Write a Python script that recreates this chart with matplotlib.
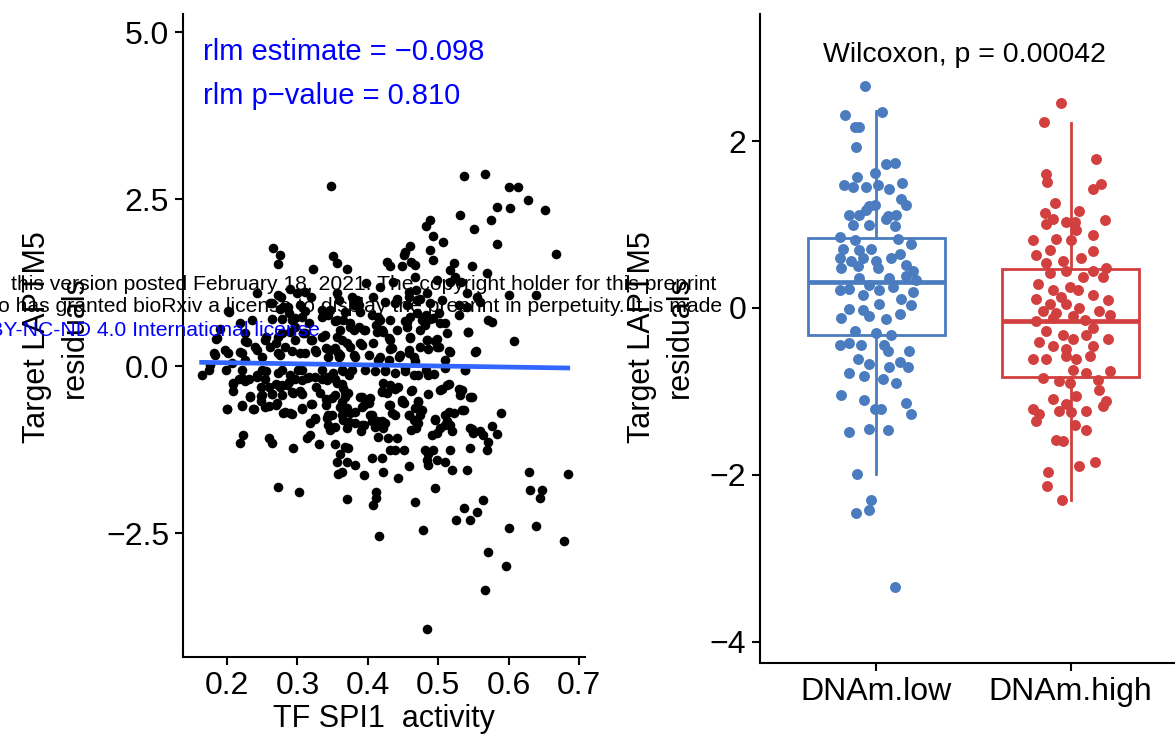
import numpy as np
import matplotlib.pyplot as plt

plt.rcParams['font.family'] = ['Liberation Sans', 'DejaVu Sans']

W, H = 1175, 739

# ---- left panel: TF SPI1 activity vs LAPTM5 residuals
scatter_pts = [
    # sparse points (top, right, bottom)
    (.348, 2.70), (.536, 2.85), (.567, 2.87), (.600, 2.68), (.614, 2.68), (.628, 2.49),
    (.651, 2.33), (.584, 2.38), (.602, 2.36), (.575, 2.18), (.551, 2.05), (.531, 2.26),
    (.488, 2.18), (.482, 2.09), (.492, 1.94), (.583, 1.83), (.667, 1.67), (.600, 1.06),
    (.639, 1.06), (.608, 0.38), (.589, -0.70), (.576, -0.90), (.584, -1.02), (.629, -1.58),
    (.684, -1.62), (.630, -1.86), (.647, -1.85), (.645, -1.98), (.563, -2.00), (.537, -2.13),
    (.555, -2.19), (.525, -2.31), (.545, -2.31), (.600, -2.42), (.639, -2.40), (.679, -2.62),
    (.571, -2.78), (.596, -3.00), (.567, -3.35), (.484, -3.93), (.479, -2.46), (.467, -2.03),
    (.416, -2.54), (.408, -2.08), (.412, -1.88), (.412, -1.97), (.370, -1.99), (.496, -1.82),
    (.272, -1.81), (.302, -1.88),
    # upper left block
    (.266, 1.76), (.275, 1.66), (.272, 1.53), (.322, 1.45), (.351, 1.64), (.356, 1.54),
    (.242, 1.09), (.273, 1.06), (.290, 1.15), (.299, 1.09), (.311, 1.11), (.320, 1.03),
    (.356, 1.09), (.261, 0.94), (.275, 0.86), (.287, 0.89), (.304, 0.91), (.203, 0.81),
    (.219, 0.64), (.235, 0.69), (.264, 0.71), (.278, 0.71), (.292, 0.69), (.306, 0.74),
    (.335, 0.74), (.346, 0.84), (.356, 0.69), (.190, 0.56), (.185, 0.41), (.228, 0.36),
    (.256, 0.44), (.273, 0.44), (.290, 0.51), (.308, 0.49), (.320, 0.39), (.339, 0.46),
    (.356, 0.44), (.181, 0.19), (.197, 0.24), (.219, 0.21), (.242, 0.24), (.261, 0.29),
    (.275, 0.16), (.304, 0.19), (.327, 0.21), (.346, 0.24), (.358, 0.19),
    # upper right block
    (.460, 1.79), (.453, 1.71), (.451, 1.66), (.488, 1.74), (.507, 1.86), (.493, 1.59),
    (.427, 1.56), (.432, 1.49), (.448, 1.49), (.462, 1.56), (.467, 1.51), (.522, 1.54),
    (.517, 1.44), (.548, 1.49), (.569, 1.39), (.370, 1.46), (.398, 1.24), (.417, 1.19),
    (.436, 1.26), (.467, 1.34), (.458, 1.11), (.469, 1.14), (.498, 1.29), (.517, 1.26),
    (.524, 1.34), (.533, 1.26), (.541, 1.09), (.555, 1.04), (.384, 0.99), (.380, 0.91),
    (.408, 1.04), (.425, 0.96), (.441, 1.01), (.455, 0.91), (.474, 1.01), (.488, 0.94),
    (.505, 0.99), (.529, 0.91), (.541, 0.89), (.559, 0.96), (.571, 0.69), (.368, 0.81),
    (.365, 0.69), (.389, 0.81), (.406, 0.76), (.417, 0.69), (.432, 0.69), (.455, 0.66),
    (.460, 0.74), (.477, 0.69), (.488, 0.71), (.481, 0.61), (.503, 0.64), (.375, 0.59),
    (.380, 0.54), (.394, 0.54), (.413, 0.51), (.422, 0.51), (.441, 0.54), (.460, 0.44),
    (.474, 0.54), (.484, 0.39), (.498, 0.41), (.512, 0.49), (.543, 0.51), (.370, 0.34),
    (.389, 0.34), (.408, 0.34), (.432, 0.39), (.432, 0.26), (.458, 0.24), (.474, 0.29),
    (.486, 0.26), (.498, 0.29), (.517, 0.21), (.552, 0.21), (.361, 0.16), (.380, 0.16),
    (.417, 0.14), (.446, 0.16), (.465, 0.14),
    # dense core above the fit line
    (.202, 0.82), (.226, 0.37), (.264, 0.94), (.276, 1.04), (.280, 0.89), (.288, 0.79),
    (.297, 0.72), (.311, 0.82), (.335, 0.84), (.344, 0.77), (.354, 0.67), (.361, 0.54),
    (.363, 0.39), (.354, 0.27), (.344, 0.14), (.321, 0.39), (.335, 0.44), (.311, 0.49),
    (.297, 0.39), (.283, 0.29), (.269, 0.34), (.254, 0.39), (.240, 0.29), (.221, 0.19),
    (.202, 0.19), (.183, 0.17), (.186, 0.42), (.207, 0.04), (.226, 0.09), (.250, 0.14),
    (.273, 0.19), (.292, 0.22), (.311, 0.19), (.325, 0.24), (.340, 0.27), (.359, 0.14),
    (.363, -0.06), (.335, -0.06), (.307, -0.06), (.278, -0.06), (.250, -0.06), (.221, -0.06),
    (.198, -0.06), (.174, -0.06), (.297, 0.59), (.278, 0.49), (.226, 0.49), (.316, 0.64),
    (.359, 0.99),
    (.377, 1.04), (.387, 0.91), (.375, 0.64), (.387, 0.59), (.396, 0.54), (.411, 0.61),
    (.420, 0.54), (.430, 0.42), (.415, 0.74), (.439, 0.94), (.458, 1.04), (.470, 0.99),
    (.484, 1.09), (.470, 0.79), (.482, 0.77), (.493, 0.72), (.501, 0.79), (.510, 0.64),
    (.529, 0.77), (.543, 0.51), (.576, 0.66), (.553, 0.22), (.453, 0.67), (.456, 0.59),
    (.460, 0.42), (.484, 0.39), (.496, 0.37), (.501, 0.29), (.515, 0.22), (.510, 0.09),
    (.467, 0.07), (.458, 0.19), (.434, 0.27), (.444, 0.14), (.430, 0.09), (.415, 0.09),
    (.401, 0.17), (.392, 0.32), (.382, 0.14), (.375, 0.29), (.396, -0.06), (.425, -0.06),
    (.453, -0.03), (.482, -0.06), (.510, -0.03), (.538, -0.06),
    # dense core below the fit line
    (.209, -0.265), (.217, -0.19), (.231, -0.19), (.243, -0.165), (.254, -0.19), (.259, -0.315),
    (.269, -0.265), (.278, -0.29), (.288, -0.24), (.297, -0.19), (.307, -0.215), (.316, -0.165),
    (.325, -0.165), (.335, -0.19), (.344, -0.165), (.354, -0.19), (.363, -0.265), (.373, -0.14),
    (.233, -0.465), (.250, -0.44), (.264, -0.415), (.278, -0.44), (.292, -0.39), (.307, -0.415),
    (.321, -0.565), (.340, -0.49), (.354, -0.44), (.368, -0.39), (.392, -0.465), (.401, -0.49),
    (.420, -0.39), (.439, -0.34), (.463, -0.365), (.486, -0.14), (.505, -0.34), (.515, -0.265),
    (.534, -0.365), (.548, -0.465), (.200, -0.64), (.221, -0.59), (.238, -0.64), (.254, -0.615),
    (.269, -0.59), (.283, -0.69), (.292, -0.715), (.307, -0.64), (.340, -0.59), (.363, -0.54),
    (.392, -0.615), (.430, -0.59), (.449, -0.54), (.458, -0.74), (.472, -0.54), (.477, -0.665),
    (.515, -0.69), (.534, -0.665), (.325, -0.79), (.344, -0.74), (.363, -0.74), (.382, -0.69),
    (.406, -0.74), (.420, -0.84), (.439, -0.74), (.468, -0.84), (.495, -0.79), (.510, -0.89),
    (.548, -0.94), (.344, -0.89), (.373, -0.84), (.392, -0.89),
    # lower left block
    (.164, -0.14), (.176, 0.01), (.209, -0.26), (.221, -0.18), (.226, -0.23), (.209, -0.38),
    (.242, -0.13), (.249, -0.31), (.256, -0.08), (.273, -0.11), (.290, -0.13), (.301, -0.06),
    (.313, -0.18), (.233, -0.45), (.249, -0.45), (.264, -0.42), (.275, -0.31), (.285, -0.28),
    (.294, -0.41), (.304, -0.38), (.327, -0.31), (.342, -0.21), (.351, -0.11), (.200, -0.65),
    (.221, -0.60), (.237, -0.65), (.249, -0.53), (.259, -0.60), (.271, -0.56), (.280, -0.71),
    (.290, -0.71), (.306, -0.63), (.320, -0.57), (.332, -0.41), (.342, -0.51), (.349, -0.48),
    (.356, -0.26), (.318, -0.86), (.325, -0.78), (.342, -0.78), (.349, -0.73), (.346, -0.96),
    (.353, -0.91), (.313, -1.08), (.318, -1.03), (.223, -1.03), (.218, -1.15), (.259, -1.08),
    (.264, -1.15), (.294, -1.23), (.330, -1.16), (.353, -1.16), (.356, -1.43), (.358, -1.61),
    # lower right block
    (.365, -0.08), (.377, -0.06), (.410, -0.08), (.425, -0.08), (.439, -0.10), (.453, -0.08),
    (.465, -0.13), (.472, -0.13), (.494, -0.12), (.538, -0.06), (.365, -0.33), (.372, -0.41),
    (.368, -0.46), (.389, -0.46), (.403, -0.48), (.422, -0.26), (.432, -0.28), (.443, -0.31),
    (.420, -0.38), (.427, -0.41), (.462, -0.37), (.485, -0.42), (.503, -0.36), (.512, -0.28),
    (.529, -0.35), (.531, -0.43), (.545, -0.47), (.361, -0.61), (.370, -0.63), (.375, -0.71),
    (.394, -0.58), (.401, -0.56), (.432, -0.58), (.434, -0.71), (.448, -0.51), (.451, -0.56),
    (.472, -0.53), (.467, -0.63), (.458, -0.73), (.474, -0.73), (.510, -0.73), (.522, -0.70),
    (.536, -0.66), (.365, -0.81), (.370, -0.93), (.382, -0.86), (.394, -0.88), (.391, -0.98),
    (.403, -0.73), (.406, -0.83), (.413, -0.83), (.420, -0.83), (.410, -0.91), (.425, -0.86),
    (.422, -0.93), (.465, -0.81), (.472, -0.86), (.462, -0.96), (.469, -0.93), (.496, -0.81),
    (.503, -0.93), (.498, -1.01), (.491, -1.03), (.512, -0.83), (.517, -0.88), (.519, -0.98),
    (.545, -0.93), (.550, -1.01), (.559, -0.98), (.564, -1.03), (.368, -1.21), (.372, -1.23),
    (.361, -1.31), (.415, -1.06), (.429, -1.08), (.441, -1.08), (.432, -1.26), (.439, -1.26),
    (.451, -1.26), (.481, -1.26), (.493, -1.26), (.486, -1.31), (.517, -1.26), (.545, -1.22),
    (.569, -1.26), (.571, -1.13), (.406, -1.38), (.420, -1.38), (.484, -1.41), (.498, -1.41),
    (.510, -1.43), (.370, -1.43), (.382, -1.48), (.363, -1.58), (.394, -1.63), (.422, -1.58),
    (.443, -1.68), (.458, -1.50), (.486, -1.48), (.519, -1.56), (.541, -1.55),
]
tf_activity = np.array([p[0] for p in scatter_pts])
target_resid = np.array([p[1] for p in scatter_pts])

rlm_intercept = 0.082
rlm_slope = -0.163
rlm_labels = ['rlm estimate = \u22120.098', 'rlm p\u2212value = 0.810']

# ---- right panel: residuals by DNAm group
groups = ['DNAm.low', 'DNAm.high']
group_colors = ['#4A7CBF', '#D1403F']
box_q1 = [-0.33, -0.83]
box_med = [0.31, -0.16]
box_q3 = [0.84, 0.465]
whisk_lo = [-1.99, -2.30]
whisk_hi = [2.36, 2.22]
wilcox_label = 'Wilcoxon, p = 0.00042'

# (jitter offset, residual)
low_pts = [
    (-0.057, 2.66), (0.029, 2.35), (-0.16, 2.31), (-0.113, 2.17), (-0.088, 2.17), (-0.105, 1.93),
    (0.05, 1.73), (0.098, 1.74), (-0.01, 1.62), (-0.10, 1.57), (-0.165, 1.47), (-0.122, 1.45),
    (-0.053, 1.45), (0.007, 1.48), (0.132, 1.50), (0.067, 1.43), (0.127, 1.31), (0.153, 1.24),
    (-0.036, 1.22), (-0.01, 1.24), (-0.139, 1.12), (-0.088, 1.12), (-0.053, 1.18), (0.058, 1.10),
    (0.101, 1.12), (-0.122, 1.00), (-0.036, 1.00), (0.093, 0.98), (0.05, 1.07), (-0.19, 0.85),
    (-0.113, 0.81), (0.11, 0.83), (0.179, 0.77), (-0.174, 0.71), (-0.088, 0.69), (-0.027, 0.71),
    (0.119, 0.65), (-0.19, 0.60), (-0.131, 0.56), (-0.07, 0.60), (0.0, 0.56), (0.076, 0.60),
    (-0.182, 0.48), (-0.096, 0.50), (0.007, 0.48), (0.153, 0.52), (0.187, 0.44), (0.153, 0.38),
    (-0.088, 0.36), (0.067, 0.36), (0.204, 0.34), (-0.19, 0.21), (-0.139, 0.23), (-0.036, 0.275),
    (0.015, 0.21), (0.084, 0.255), (0.187, 0.19), (-0.07, 0.15), (0.015, 0.05), (0.127, 0.11),
    (0.179, 0.03), (-0.139, -0.01), (-0.07, -0.03), (-0.182, -0.115), (-0.036, -0.095),
    (0.05, -0.136), (0.119, -0.074), (-0.113, -0.28), (0.0, -0.30), (0.076, -0.32),
    (-0.19, -0.445), (-0.139, -0.42), (-0.079, -0.445), (0.041, -0.445), (0.058, -0.51),
    (0.17, -0.51), (-0.096, -0.61), (-0.036, -0.67), (0.119, -0.65), (0.162, -0.71),
    (-0.139, -0.775), (-0.062, -0.815), (0.067, -0.71), (0.033, -0.855), (0.101, -0.90),
    (-0.182, -1.04), (-0.062, -1.10), (-0.01, -1.21), (0.024, -1.21), (0.153, -1.145),
    (0.179, -1.27), (-0.139, -1.485), (-0.036, -1.45), (0.058, -1.46), (-0.101, -1.99),
    (-0.027, -2.30), (-0.036, -2.42), (-0.105, -2.46), (0.098, -3.35),
]
high_pts = [
    (-0.048, 2.46), (-0.137, 2.23), (0.132, 1.79), (-0.125, 1.61), (-0.122, 1.51), (0.158, 1.49),
    (0.115, 1.43), (-0.082, 1.26), (0.046, 1.16), (-0.134, 1.14), (-0.091, 1.07), (0.175, 1.05),
    (-0.022, 1.03), (0.021, 1.03), (-0.125, 1.01), (0.029, 0.93), (0.115, 0.87), (-0.074, 0.83),
    (0.003, 0.81), (-0.194, 0.81), (-0.108, 0.70), (0.115, 0.68), (-0.177, 0.64), (0.055, 0.60),
    (-0.04, 0.56), (-0.125, 0.54), (0.184, 0.48), (0.167, 0.37), (-0.022, 0.44), (0.064, 0.37),
    (0.115, 0.44), (-0.108, 0.42), (-0.168, 0.29), (-0.005, 0.25), (-0.091, 0.21), (0.038, 0.21),
    (-0.048, 0.13), (0.115, 0.15), (0.192, 0.09), (-0.177, 0.11), (-0.108, 0.05), (-0.022, 0.05),
    (0.046, 0.00), (-0.143, -0.04), (-0.074, -0.06), (0.149, -0.04), (0.201, -0.08), (0.012, -0.10),
    (-0.177, -0.16), (-0.091, -0.12), (0.072, -0.14), (0.115, -0.24), (-0.125, -0.28), (-0.04, -0.33),
    (0.012, -0.37), (0.081, -0.33), (0.192, -0.37), (-0.16, -0.41), (-0.091, -0.45), (-0.022, -0.49),
    (0.115, -0.45), (-0.194, -0.61), (-0.125, -0.61), (-0.022, -0.57), (0.029, -0.61), (0.098, -0.57),
    (0.201, -0.76), (0.012, -0.74), (0.081, -0.78), (-0.143, -0.84), (-0.057, -0.88), (-0.005, -0.90),
    (0.141, -0.86), (0.149, -0.98), (0.029, -1.05), (-0.091, -1.09), (-0.022, -1.15), (0.184, -1.11),
    (0.167, -1.17), (-0.194, -1.21), (-0.16, -1.27), (-0.177, -1.35), (-0.057, -1.23), (0.003, -1.25),
    (0.081, -1.23), (0.021, -1.40), (0.081, -1.46), (-0.074, -1.58), (-0.04, -1.60), (0.046, -1.89),
    (0.124, -1.85), (-0.117, -1.97), (-0.122, -2.13), (-0.043, -2.30),
]

fig = plt.figure(figsize=(W / 100, H / 100), dpi=100)

# ---------------- left panel
ax1 = fig.add_axes([183 / W, (H - 657) / H, 402 / W, 643 / H])
ax1.scatter(tf_activity, target_resid, s=48, color='black', linewidths=0, zorder=2)
xfit = np.array([tf_activity.min(), tf_activity.max()])
ax1.plot(xfit, rlm_intercept + rlm_slope * xfit, color='#3366FF', lw=3.4, zorder=3)
ax1.set_xlim(0.1375, 0.7085)
ax1.set_ylim(-4.356, 5.27)
ax1.set_xticks([0.2, 0.3, 0.4, 0.5, 0.6, 0.7])
ax1.set_yticks([-2.5, 0.0, 2.5, 5.0])
ax1.set_xlabel('TF SPI1  activity', fontsize=22, labelpad=2)

# ---------------- right panel
ax2 = fig.add_axes([760 / W, (H - 663) / H, 427 / W, 649 / H])
stats = []
for i in range(len(groups)):
    stats.append(dict(med=box_med[i], q1=box_q1[i], q3=box_q3[i],
                      whislo=whisk_lo[i], whishi=whisk_hi[i], fliers=[]))
bp = ax2.bxp(stats, positions=[1, 2], widths=0.71, showcaps=False, showfliers=False,
             patch_artist=True)
for i, c in enumerate(group_colors):
    bp['boxes'][i].set(facecolor='white', edgecolor=c, linewidth=2.0, zorder=1)
    bp['medians'][i].set(color=c, linewidth=3.4, zorder=1)
    for w in bp['whiskers'][2 * i:2 * i + 2]:
        w.set(color=c, linewidth=2.0, zorder=1)

for i, pts in enumerate([low_pts, high_pts]):
    jx = np.array([p[0] for p in pts]) + i + 1
    jy = np.array([p[1] for p in pts])
    ax2.scatter(jx, jy, s=62, color=group_colors[i], linewidths=0, zorder=3)

ax2.set_xlim(0.4, 2.6)
ax2.set_ylim(-4.257, 3.525)
ax2.set_xticks([1, 2])
ax2.set_xticklabels(groups)
ax2.set_yticks([-4, -2, 0, 2])
ax2.text(0.478, 3.03, wilcox_label, transform=ax2.get_yaxis_transform(),
         ha='center', va='center', fontsize=20.5)

for ax in (ax1, ax2):
    for side in ('top', 'right'):
        ax.spines[side].set_visible(False)
    for side in ('left', 'bottom'):
        ax.spines[side].set_linewidth(1.5)
    ax.tick_params(length=6, width=1.5, labelsize=23, colors='black', pad=4)

# y labels (two lines, centred)
for xc in (56, 661):
    fig.text(xc / W, 1 - 337 / H, 'Target LAPTM5\nresiduals', rotation=90,
             ha='center', va='center', multialignment='center', fontsize=22,
             linespacing=1.35)

# rlm annotation
fig.text(203 / W, 1 - 52 / H, rlm_labels[0], color='blue', fontsize=21, va='center')
fig.text(203 / W, 1 - 96 / H, rlm_labels[1], color='blue', fontsize=21, va='center')

# bioRxiv watermark that runs over the figure
fig.text(716 / W, 1 - 284 / H,
         'this version posted February 18, 2021. The copyright holder for this preprint',
         ha='right', va='center', fontsize=15.2)
fig.text(722 / W, 1 - 307 / H,
         'who has granted bioRxiv a license to display the preprint in perpetuity. It is made',
         ha='right', va='center', fontsize=15.2)
fig.text(320 / W, 1 - 330 / H, 'aCC-BY-NC-ND 4.0 International license',
         ha='right', va='center', fontsize=15.2, color='blue')

fig.savefig('out.png', dpi=100)
